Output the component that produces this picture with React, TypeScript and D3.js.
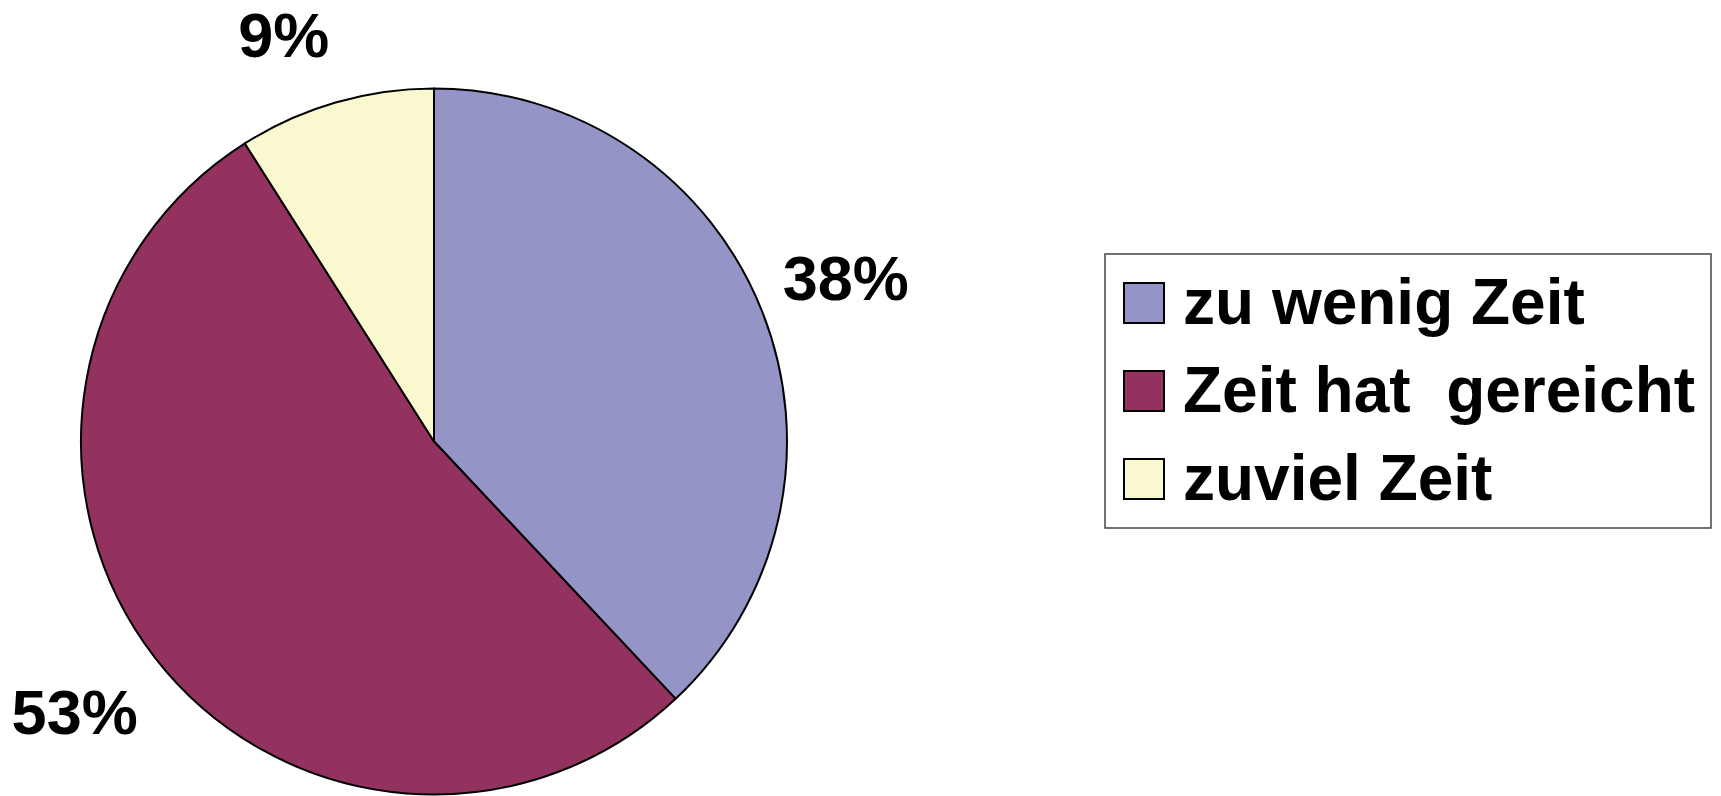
import React, { useEffect, useRef } from 'react';
import * as d3 from 'd3';

const categories = ['zu wenig Zeit', 'Zeit hat  gereicht', 'zuviel Zeit'];
const values = [38, 53, 9];
const labels = ['38%', '53%', '9%'];
const colors = ['#9494C6', '#93325E', '#FAF8CE'];

const WIDTH = 1721;
const HEIGHT = 796;
const FONT = '"Liberation Sans", Arial, Helvetica, sans-serif';

export default function App() {
  const ref = useRef<SVGSVGElement>(null);

  useEffect(() => {
    const svg = d3.select(ref.current);
    svg.selectAll('*').remove();

    const cx = 434;
    const cy = 441.5;
    const radius = 353;
    const labelSize = 63;
    const topToBaseline = labelSize * 0.83;

    const data = categories.map((c, i) => ({ name: c, value: values[i], label: labels[i], color: colors[i] }));

    const pie = d3.pie<any>().sort(null).value(d => d.value);
    const arc = d3.arc<any>().innerRadius(0).outerRadius(radius);
    const arcs = pie(data);

    const g = svg.append('g').attr('transform', `translate(${cx},${cy})`);

    g.selectAll('path.slice')
      .data(arcs)
      .enter()
      .append('path')
      .attr('class', 'slice')
      .attr('d', arc)
      .attr('fill', d => d.data.color)
      .attr('stroke', '#000')
      .attr('stroke-width', 2)
      .attr('stroke-linejoin', 'round');

    // labels: the text corner nearest the pie sits on the slice's mid-angle ray, outside the rim
    arcs.forEach(a => {
      const mid = (a.startAngle + a.endAngle) / 2;
      const dx = Math.sin(mid);
      const dy = -Math.cos(mid);
      const px = dx * (radius + 22);
      const py = dy * (radius + 23 + 25 * Math.abs(dy));

      g.append('text')
        .text(a.data.label)
        .attr('x', px)
        .attr('y', dy < 0 ? py : py + topToBaseline)
        .attr('text-anchor', dx >= 0 ? 'start' : 'end')
        .attr('font-family', FONT)
        .attr('font-weight', 'bold')
        .attr('font-size', labelSize)
        .attr('fill', '#000');
    });

    // legend
    const legend = svg.append('g');
    const lx = 1105;
    const ly = 254;
    const lw = 606;
    const lh = 274;

    legend.append('rect')
      .attr('x', lx)
      .attr('y', ly)
      .attr('width', lw)
      .attr('height', lh)
      .attr('fill', '#fff')
      .attr('stroke', '#444')
      .attr('stroke-width', 1.5);

    const row = d3.scaleBand()
      .domain(categories)
      .range([ly + 5, ly + lh - 5])
      .paddingInner(0);

    const items = legend.selectAll('g.item')
      .data(data)
      .enter()
      .append('g')
      .attr('class', 'item')
      .attr('transform', d => `translate(0,${row(d.name)! + row.bandwidth() / 2})`);

    items.append('rect')
      .attr('x', lx + 19)
      .attr('y', -20)
      .attr('width', 40)
      .attr('height', 40)
      .attr('fill', d => d.color)
      .attr('stroke', '#000')
      .attr('stroke-width', 2);

    items.append('text')
      .attr('x', lx + 78)
      .attr('y', 21)
      .attr('font-family', FONT)
      .attr('font-weight', 'bold')
      .attr('font-size', 64)
      .attr('fill', '#000')
      .style('white-space', 'pre')
      .text(d => d.name);
  }, []);

  return (
    <svg
      ref={ref}
      width={WIDTH}
      height={HEIGHT}
      style={{ position: 'absolute', left: 0, top: 0, display: 'block', background: '#fff' }}
    />
  );
}
